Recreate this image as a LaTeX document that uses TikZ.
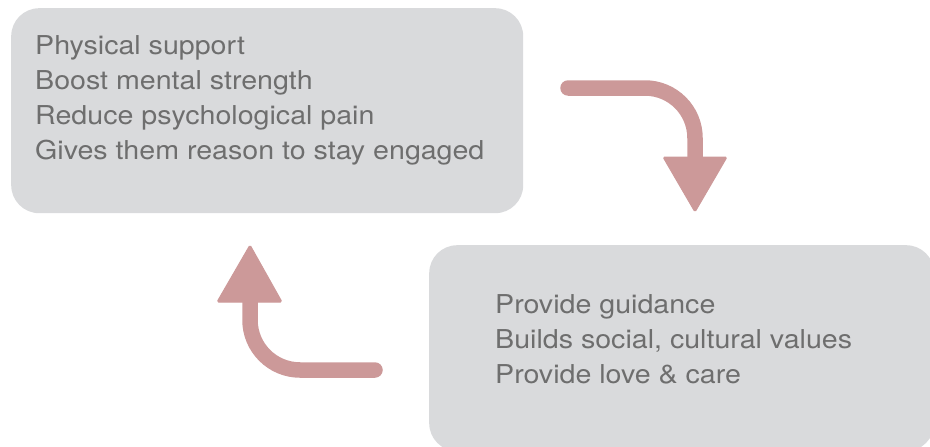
\documentclass[tikz,border=0pt]{standalone}
\usepackage{fontspec}
\newfontfamily\lab{TeX Gyre Heros}[FakeStretch=1.1]
\definecolor{boxgray}{HTML}{D9DADC}
\definecolor{txtgray}{HTML}{6E6E6E}
\definecolor{arrowpink}{HTML}{CC9999}
\tikzset{
  panel/.style={fill=boxgray, draw=none, rounded corners=28pt},
  listtext/.style={anchor=base west, inner sep=0pt, align=left, text=txtgray,
    font=\lab\fontsize{26}{35}\selectfont},
  bentshaft/.style={draw=arrowpink, line width=15.5pt, rounded corners=50pt, line cap=round},
  arrowhead/.style={fill=arrowpink, draw=arrowpink, line width=1pt, line join=round, rounded corners=1.5pt}
}
\begin{document}
\begin{tikzpicture}[x=1pt,y=-1pt]
\useasboundingbox (0,0) rectangle (930,447);
\clip (0,0) rectangle (930,447);
% boxes
\node[panel, minimum width=512pt, minimum height=205pt, anchor=north west, inner sep=0pt] (top) at (11,8) {};
\node[panel, minimum width=505pt, minimum height=206pt, anchor=north west, inner sep=0pt] (bottom) at (429,245) {};
% texts (base anchor = baseline of the last line)
\node[listtext] (toptext) at (35,159) {Physical support\\Boost mental strength\\Reduce psychological pain\\Gives them reason to stay engaged};
\node[listtext] (bottomtext) at (495,383) {Provide guidance\\Builds social, cultural values\\Provide love \& care};
% arrow 1
\coordinate (a1s) at (568,88);
\coordinate (a1c) at (695,88);
\coordinate (a1e) at (695,160);
\draw[bentshaft] (a1s) -- (a1c) -- (a1e);
\coordinate (h1l) at (663,157);
\coordinate (h1r) at (727,157);
\coordinate (h1t) at (695,212);
\filldraw[arrowhead] (h1l) -- (h1r) -- (h1t) -- cycle;
% arrow 2
\coordinate (a2s) at (375,370);
\coordinate (a2c) at (250,370);
\coordinate (a2e) at (250,300);
\draw[bentshaft] (a2s) -- (a2c) -- (a2e);
\coordinate (h2l) at (217,302);
\coordinate (h2r) at (282,302);
\coordinate (h2t) at (250,245);
\filldraw[arrowhead] (h2l) -- (h2r) -- (h2t) -- cycle;
\end{tikzpicture}
\end{document}
